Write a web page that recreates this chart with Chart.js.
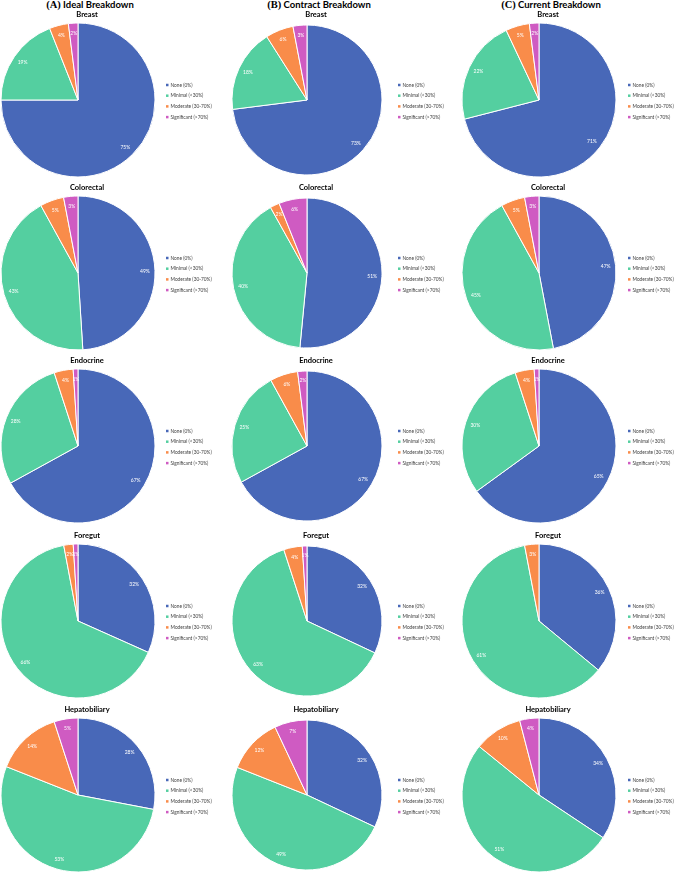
<!DOCTYPE html>
<html>
<head>
<meta charset="utf-8">
<script src="https://cdn.jsdelivr.net/npm/chart.js@4.4.1/dist/chart.umd.min.js"></script>
<style>
  body { margin: 0; background: #fff; width: 677px; height: 872px; position: relative; overflow: hidden; }
  canvas.cell { position: absolute; }
  .colhead { position: absolute; top: -1px; transform: translateX(-50%); white-space: nowrap; font: bold 9.5px Lato, sans-serif; color: #000; line-height: 11px; }
  .colhead b { font: bold 10.5px "Liberation Serif", serif; }
</style>
</head>
<body>
<script>
// Data
const categories = ['None (0%)', 'Minimal (<30%)', 'Moderate (30-70%)', 'Significant (>70%)'];
const specialties = ['Breast', 'Colorectal', 'Endocrine', 'Foregut', 'Hepatobiliary'];
const panelLetters = ['(A)', '(B)', '(C)'];
const panelNames = ['Ideal Breakdown', 'Contract Breakdown', 'Current Breakdown'];

// per specialty: [None, Minimal, Moderate, Significant] in %
const idealValues = [
    [75, 19, 4, 2],
    [49, 43, 5, 3],
    [67, 28, 4, 1],
    [32, 66, 2, 1],
    [28, 53, 14, 5]
];
const contractValues = [
    [73, 18, 6, 3],
    [51, 40, 2, 6],
    [67, 25, 6, 2],
    [32, 63, 4, 1],
    [32, 49, 12, 7]
];
const currentValues = [
    [71, 22, 5, 2],
    [47, 45, 5, 3],
    [65, 30, 4, 1],
    [36, 61, 3, 0],
    [34, 51, 10, 4]
];

const sliceColors = ['#4868b8', '#54cfa0', '#f98c4a', '#cf5bc2'];

// Layout
const colCenters = [78, 307, 539];
const colRadius = [77, 75, 77];
const colLeft = [0, 229, 458];
const colWidth = [229, 229, 219];
const rowCenters = [100, 273, 446, 621, 795];
const legendOffsets = [11, 16, 12];

// draws percentage labels, small title and legend for each pie
const pieDecor = {
    id: 'pieDecor',
    afterDatasetsDraw(chart, args, opts) {
        const ctx = chart.ctx;
        const meta = chart.getDatasetMeta(0);
        const values = chart.data.datasets[0].data;
        ctx.save();
        ctx.fillStyle = '#fff';
        ctx.font = '5px Lato, sans-serif';
        ctx.textAlign = 'center';
        ctx.textBaseline = 'middle';
        meta.data.forEach((arc, i) => {
            if (!values[i]) return;
            const p = arc.getProps(['x', 'y', 'startAngle', 'endAngle', 'outerRadius'], true);
            const mid = (p.startAngle + p.endAngle) / 2;
            const r = p.outerRadius * 0.87;
            ctx.fillText(values[i] + '%', p.x + Math.cos(mid) * r, p.y + Math.sin(mid) * r);
        });
        ctx.restore();
    },
    afterDraw(chart, args, opts) {
        const ctx = chart.ctx;
        const area = chart.chartArea;
        const cx = (area.left + area.right) / 2;
        const cy = (area.top + area.bottom) / 2;
        ctx.save();
        // title
        ctx.fillStyle = '#000';
        ctx.font = 'bold 7.5px Lato, sans-serif';
        ctx.textAlign = 'center';
        ctx.textBaseline = 'middle';
        ctx.fillText(opts.title, cx + 9, cy - 85);
        // legend
        ctx.font = '4.8px Lato, sans-serif';
        ctx.textAlign = 'left';
        const lx = area.right + opts.legendGap;
        chart.data.labels.forEach((lab, i) => {
            const y = cy - 15 + i * 10.7;
            ctx.fillStyle = sliceColors[i];
            ctx.fillRect(lx, y - 1.25, 2.5, 2.5);
            ctx.fillStyle = '#404040';
            ctx.fillText(lab, lx + 4.5, y);
        });
        ctx.restore();
    }
};

const allPanels = [idealValues, contractValues, currentValues];

panelNames.forEach((name, c) => {
    const h = document.createElement('div');
    h.className = 'colhead';
    h.style.left = (colCenters[c] + 12) + 'px';
    h.innerHTML = '<b>' + panelLetters[c] + '</b> ' + name;
    document.body.appendChild(h);
});

allPanels.forEach((panel, c) => {
    specialties.forEach((spec, r) => {
        const top = rowCenters[r] - 90;
        const height = 178;
        const canvas = document.createElement('canvas');
        canvas.className = 'cell';
        canvas.style.left = colLeft[c] + 'px';
        canvas.style.top = top + 'px';
        canvas.width = colWidth[c];
        canvas.height = height;
        canvas.style.width = colWidth[c] + 'px';
        canvas.style.height = height + 'px';
        document.body.appendChild(canvas);

        const cx = colCenters[c] - colLeft[c];
        const cy = rowCenters[r] - top;
        const rad = colRadius[c];

        new Chart(canvas.getContext('2d'), {
            type: 'pie',
            data: {
                labels: categories,
                datasets: [{
                    data: panel[r],
                    backgroundColor: sliceColors,
                    borderColor: '#fff',
                    borderWidth: 1,
                    hoverOffset: 0
                }]
            },
            options: {
                responsive: false,
                animation: false,
                events: [],
                radius: rad,
                layout: {
                    padding: {
                        left: cx - rad,
                        right: colWidth[c] - (cx + rad),
                        top: cy - rad,
                        bottom: height - (cy + rad)
                    }
                },
                plugins: {
                    legend: { display: false },
                    tooltip: { enabled: false },
                    pieDecor: { title: spec, legendGap: legendOffsets[c] }
                }
            },
            plugins: [pieDecor]
        });
    });
});
</script>
</body>
</html>
